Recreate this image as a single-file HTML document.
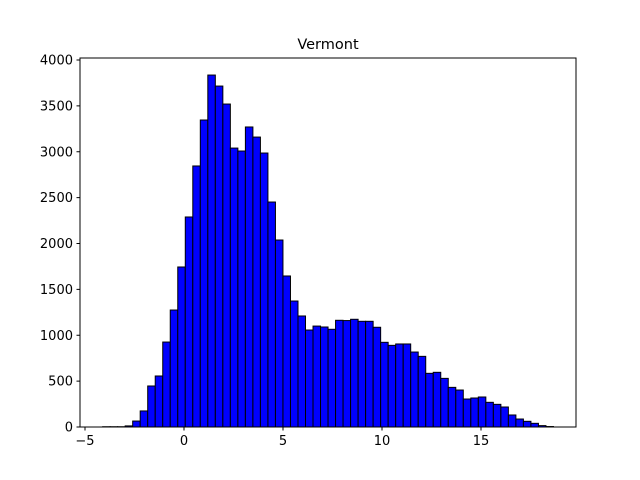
<!DOCTYPE html>
<html><head><meta charset="utf-8"><style>
html,body{margin:0;padding:0;background:#fff;}
svg{display:block;font-family:"DejaVu Sans","Liberation Sans",sans-serif;}
</style></head><body>
<svg id="chart" width="640" height="480" viewBox="0 0 640 480">
<rect width="640" height="480" fill="#fff"/>
<text x="328" y="49" font-size="14.5" text-anchor="middle">Vermont</text>
<g id="bars"></g>
<g id="xticks"></g>
<g id="yticks"></g>
<rect x="80" y="58" width="496" height="369" fill="none" stroke="#000" stroke-width="1"/>
</svg>
<script>
const binStart = -4.11;
const binWidth = 0.3795;
const counts = [3,3,3,12,65,175,447,556,926,1275,1744,2289,2845,3346,3836,3716,3520,3040,3008,3270,3160,2986,2452,2038,1646,1373,1210,1057,1100,1090,1065,1163,1160,1174,1152,1152,1087,923,890,905,905,817,770,585,596,530,432,403,305,316,327,269,247,218,131,87,62,40,15,5];
const xTicks = [-5,0,5,10,15];
const yTicks = [0,500,1000,1500,2000,2500,3000,3500,4000];
const NS="http://www.w3.org/2000/svg";
function xs(v){return 184+19.8*v;}
function ys(v){return 427-v*0.09175;}
const bars=document.getElementById('bars');
counts.forEach((c,i)=>{
  const x0=xs(binStart+i*binWidth), x1=xs(binStart+(i+1)*binWidth);
  const r=document.createElementNS(NS,'rect');
  r.setAttribute('x',x0);r.setAttribute('y',ys(c));
  r.setAttribute('width',x1-x0);r.setAttribute('height',ys(0)-ys(c));
  r.setAttribute('fill','#0000ff');r.setAttribute('stroke','#000');r.setAttribute('stroke-width','1');
  
  
  bars.appendChild(r);
});
const xg=document.getElementById('xticks');
xTicks.forEach(t=>{
  const x=xs(t);
  const l=document.createElementNS(NS,'line');
  l.setAttribute('x1',x);l.setAttribute('x2',x);l.setAttribute('y1',427);l.setAttribute('y2',430.5);l.setAttribute('stroke','#000');
  
  
  xg.appendChild(l);
  const tx=document.createElementNS(NS,'text');
  tx.setAttribute('x',x);tx.setAttribute('y',445);tx.setAttribute('font-size','13');tx.setAttribute('text-anchor','middle');
  tx.textContent=t<0?'\u2212'+(-t):String(t);
  
  
  xg.appendChild(tx);
});
const yg=document.getElementById('yticks');
yTicks.forEach(t=>{
  const y=ys(t);
  const l=document.createElementNS(NS,'line');
  l.setAttribute('x1',76.5);l.setAttribute('x2',80);l.setAttribute('y1',y);l.setAttribute('y2',y);l.setAttribute('stroke','#000');
  
  
  yg.appendChild(l);
  const tx=document.createElementNS(NS,'text');
  tx.setAttribute('x',73);tx.setAttribute('y',y+4.5);tx.setAttribute('font-size','13');tx.setAttribute('text-anchor','end');
  tx.textContent=String(t);
  
  
  yg.appendChild(tx);
});
</script>
</body></html>
